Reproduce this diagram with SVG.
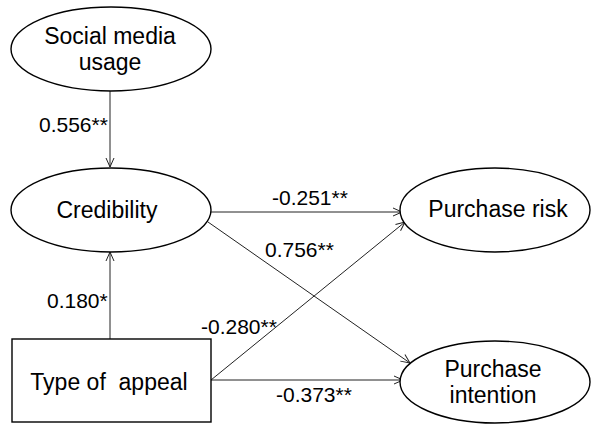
<svg xmlns="http://www.w3.org/2000/svg" width="592" height="425" viewBox="0 0 592 425">
<defs>
<style>
.node{fill:#fff;stroke:#000;stroke-width:1.4}
.t{font-family:"Liberation Sans",Arial,sans-serif;font-size:23px;fill:#000;text-anchor:middle}
.lbl{font-family:"Liberation Sans",Arial,sans-serif;font-size:21px;fill:#000}
.edge{fill:none;stroke:#222;stroke-width:1;marker-end:url(#arr)}
</style>
<marker id="arr" viewBox="0 0 10 10" refX="10" refY="5" markerWidth="10" markerHeight="10" markerUnits="userSpaceOnUse" orient="auto">
<path d="M1,1 L10,5 L1,9" fill="none" stroke="#222" stroke-width="1"/>
</marker>
</defs>
<rect width="592" height="425" fill="#fff"/>
<g id="connectors">
<line class="edge" x1="110" y1="91" x2="110" y2="167"/>
<line class="edge" x1="110" y1="339" x2="110" y2="252"/>
<line class="edge" x1="211" y1="212" x2="402" y2="212"/>
<line class="edge" x1="208" y1="222" x2="410" y2="363"/>
<line class="edge" x1="211" y1="380" x2="405" y2="222"/>
<line class="edge" x1="211" y1="380" x2="403" y2="380"/>
<text class="lbl" x="39" y="132">0.556**</text>
<text class="lbl" x="47" y="308">0.180*</text>
<text class="lbl" x="272" y="205">-0.251**</text>
<text class="lbl" x="265" y="257">0.756**</text>
<text class="lbl" x="201" y="334">-0.280**</text>
<text class="lbl" x="276" y="402">-0.373**</text>
</g>
<g id="social-media-usage">
<ellipse class="node" cx="111" cy="49" rx="100" ry="42"/>
<text class="t" x="110" y="44">Social media</text>
<text class="t" x="110" y="70">usage</text>
</g>
<g id="credibility">
<ellipse class="node" cx="111" cy="210" rx="100" ry="42"/>
<text class="t" x="107" y="218">Credibility</text>
</g>
<g id="type-of-appeal">
<rect class="node" x="12" y="339" width="199" height="83"/>
<text class="t" x="109" y="390" xml:space="preserve">Type of  appeal</text>
</g>
<g id="purchase-risk">
<ellipse class="node" cx="495" cy="210" rx="95" ry="42"/>
<text class="t" x="498" y="217">Purchase risk</text>
</g>
<g id="purchase-intention">
<ellipse class="node" cx="495" cy="382" rx="95" ry="41"/>
<text class="t" x="493" y="377">Purchase</text>
<text class="t" x="493" y="403">intention</text>
</g>
</svg>
